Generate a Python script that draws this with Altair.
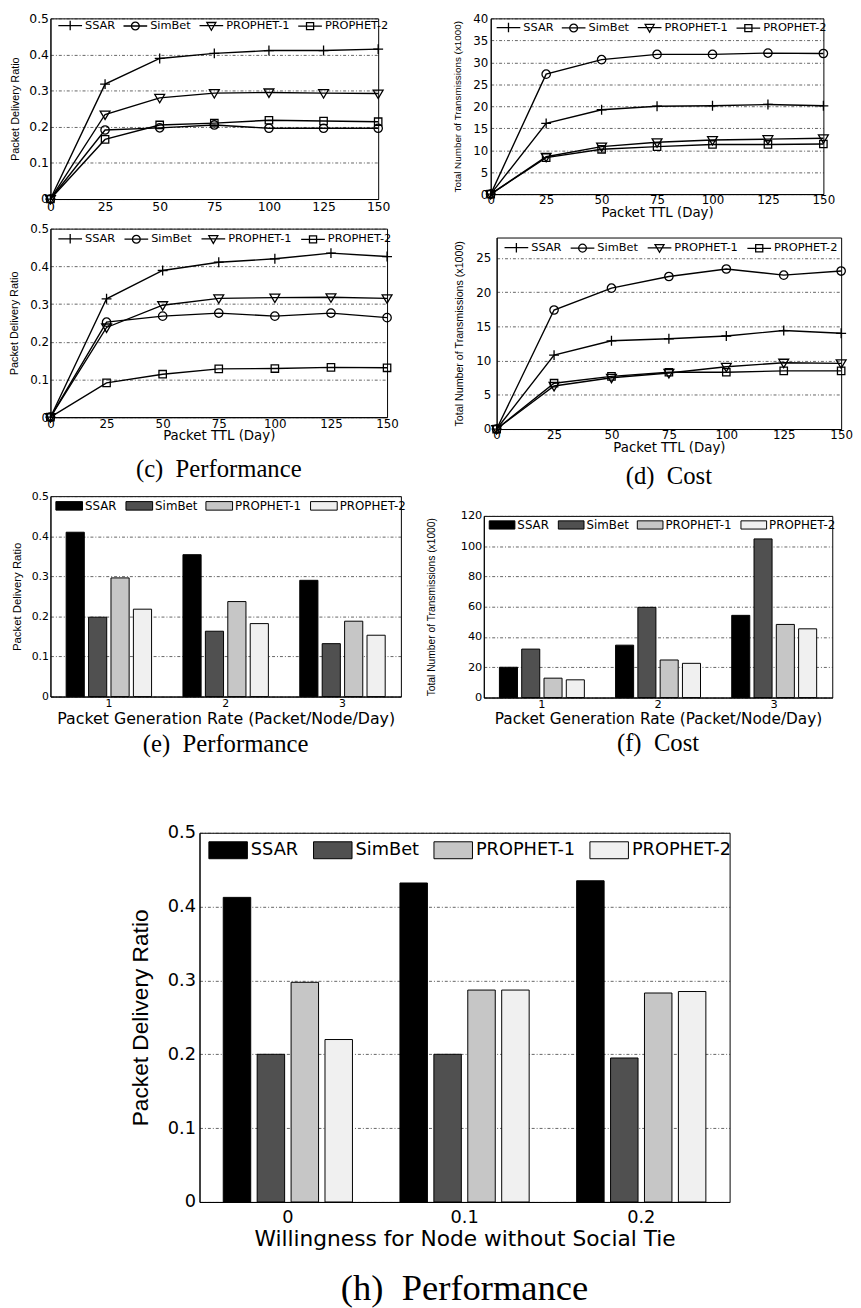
import altair as alt
import pandas as pd

SERIES = ["SSAR", "SimBet", "PROPHET-1", "PROPHET-2"]
TTL = [0, 25, 50, 75, 100, 125, 150]

# (top-left) packet delivery ratio vs TTL
a_ssar = [0, 0.318, 0.389, 0.403, 0.411, 0.411, 0.415]
a_simbet = [0, 0.191, 0.197, 0.205, 0.196, 0.196, 0.196]
a_p1 = [0, 0.234, 0.280, 0.293, 0.295, 0.293, 0.292]
a_p2 = [0, 0.165, 0.205, 0.210, 0.218, 0.216, 0.214]

# (top-right) transmissions vs TTL
b_ssar = [0, 16.1, 19.2, 20.0, 20.1, 20.4, 20.1]
b_simbet = [0, 27.3, 30.6, 31.8, 31.8, 32.1, 32.0]
b_p1 = [0, 8.5, 10.8, 11.8, 12.3, 12.5, 12.7]
b_p2 = [0, 8.3, 10.2, 10.8, 11.3, 11.3, 11.4]

# (c) performance
c_ssar = [0, 0.314, 0.389, 0.411, 0.420, 0.435, 0.426]
c_simbet = [0, 0.252, 0.268, 0.276, 0.268, 0.276, 0.264]
c_p1 = [0, 0.238, 0.297, 0.315, 0.317, 0.318, 0.315]
c_p2 = [0, 0.091, 0.114, 0.128, 0.129, 0.132, 0.131]

# (d) cost
d_ssar = [0, 10.8, 12.9, 13.2, 13.6, 14.4, 14.0]
d_simbet = [0, 17.4, 20.6, 22.3, 23.4, 22.5, 23.1]
d_p1 = [0, 6.3, 7.5, 8.2, 9.1, 9.7, 9.6]
d_p2 = [0, 6.7, 7.7, 8.3, 8.3, 8.5, 8.5]

# (e) / (f) packet generation rate
RATE = ["1", "2", "3"]
e_ssar = [0.410, 0.354, 0.290]
e_simbet = [0.198, 0.163, 0.132]
e_p1 = [0.296, 0.237, 0.188]
e_p2 = [0.218, 0.182, 0.153]

f_ssar = [20.0, 34.6, 54.3]
f_simbet = [32.0, 59.6, 104.8]
f_p1 = [12.8, 24.8, 48.3]
f_p2 = [11.7, 22.6, 45.4]

# (h) willingness
WILL = ["0", "0.1", "0.2"]
h_ssar = [0.4125, 0.432, 0.435]
h_simbet = [0.200, 0.200, 0.195]
h_p1 = [0.2975, 0.287, 0.283]
h_p2 = [0.220, 0.287, 0.285]

SANS = "DejaVu Sans"
ROT = "Liberation Sans"
SERIF = "Liberation Serif"
GRID_DASH = [3, 2, 1, 2]

MARKERS = [
    "M-1,0L1,0M0,-1L0,1",
    "M-0.85,0A0.85,0.85 0 1,0 0.85,0A0.85,0.85 0 1,0 -0.85,0",
    "M-1,-0.7L1,-0.7L0,1Z",
    "M-0.75,-0.75L0.75,-0.75L0.75,0.75L-0.75,0.75Z",
]
LEG_LINE = [
    "M-1,0L1,0M0,-0.4L0,0.4",
    "M-1,0L1,0M-0.33,0A0.33,0.33 0 1,0 0.33,0A0.33,0.33 0 1,0 -0.33,0",
    "M-1,0L1,0M-0.38,-0.27L0.38,-0.27L0,0.38Z",
    "M-1,0L1,0M-0.3,-0.3L0.3,-0.3L0.3,0.3L-0.3,0.3Z",
]
BAR_COLORS = ["#000000", "#505050", "#c6c6c6", "#f0f0f0"]
RATIO_FMT = "datum.value == 0 ? '0' : format(datum.value, '.1f')"

INDEP = dict(fill="independent", shape="independent", xOffset="independent")


def spacer(w, h):
    return alt.Chart(pd.DataFrame({"v": [0]})).mark_point(opacity=0, size=0).encode(
        x=alt.value(0), y=alt.value(0)
    ).properties(width=w, height=h, view=alt.ViewBackground(stroke="transparent", strokeWidth=0))


def line_panel(vals, ydom, yvals, ylabexpr, ytitle, xtitle, w, h, c, caption=None):
    rows = []
    for s, arr in zip(SERIES, vals):
        for t, v in zip(TTL, arr):
            rows.append({"ttl": t, "val": v, "series": s})
    df = pd.DataFrame(rows)
    xax = dict(values=TTL, title=xtitle, labelFont=SANS, labelFontSize=c["lab"], labelPadding=c.get("xlp", 2),
               titleFont=SANS, titleFontSize=c.get("xt", 13), titlePadding=c.get("xtp", 0),
               grid=False, ticks=False, labelFlush=False, domainColor="black", labelColor="black",
               titleColor="black", titleFontWeight="normal")
    yax = dict(values=yvals, title=ytitle, labelFont=SANS, labelFontSize=c["lab"], labelPadding=c["ylp"],
               titleFont=ROT, titleFontSize=c["yt"], titlePadding=c["ytp"], grid=True, gridDash=GRID_DASH,
               gridColor="#222222", gridWidth=0.7, ticks=False, domainColor="black", labelColor="black",
               titleColor="black", titleFontWeight="normal")
    if ylabexpr:
        yax["labelExpr"] = ylabexpr
    x = alt.X("ttl:Q", scale=alt.Scale(domain=[0, 150], nice=False), axis=alt.Axis(**xax))
    y = alt.Y("val:Q", scale=alt.Scale(domain=ydom, nice=False), axis=alt.Axis(**yax))
    base = alt.Chart(df)
    lines = base.mark_line(color="black", strokeWidth=1.4).encode(x=x, y=y, detail="series:N")
    pts = base.mark_point(filled=False, color="black", strokeWidth=1.3, size=c.get("msize", 100), opacity=1).encode(
        x=x, y=y, shape=alt.Shape("series:N", scale=alt.Scale(domain=SERIES, range=MARKERS), legend=None))
    leg = base.mark_point(filled=False, color="black", opacity=0).encode(
        x=x, y=y,
        shape=alt.Shape("series:N", scale=alt.Scale(domain=SERIES, range=LEG_LINE),
                        legend=alt.Legend(title=None, orient="none", legendX=c["lx"], legendY=c["ly"],
                                          direction="horizontal", symbolSize=c.get("ssize", 576),
                                          symbolStrokeWidth=1.3, symbolStrokeColor="black", symbolOpacity=1,
                                          labelFont=SANS, labelFontSize=c["lf"], labelOffset=2,
                                          columnPadding=c["cp"], padding=0, labelColor="black")))
    ch = alt.layer(lines, pts, leg).resolve_scale(shape="independent").properties(width=w, height=h)
    if caption:
        ch = ch.properties(title=alt.TitleParams(text=caption, orient="bottom", font=SERIF, fontSize=c["cf"],
                                                 fontWeight="normal", offset=c["co"], anchor="middle", color="black"))
    return ch


def bar_panel(cats, vals, ydom, yvals, ylabexpr, ytitle, xtitle, w, h, c, caption):
    rows = []
    for s, arr in zip(SERIES, vals):
        for k, v in zip(cats, arr):
            rows.append({"cat": k, "val": v, "series": s})
    df = pd.DataFrame(rows)
    xax = alt.Axis(title=xtitle, labelAngle=0, labelFont=SANS, labelFontSize=c["lab"], labelPadding=c.get("xlp", 1),
                   titleFont=SANS, titleFontSize=c["xt"], titlePadding=c.get("xtp", 0), grid=False, ticks=False,
                   domainColor="black", labelColor="black", titleColor="black", titleFontWeight="normal")
    yax = dict(values=yvals, title=ytitle, labelFont=SANS, labelFontSize=c["lab"], labelPadding=c["ylp"],
               titleFont=ROT, titleFontSize=c["yt"], titlePadding=c["ytp"], grid=True, gridDash=GRID_DASH,
               gridColor="#222222", gridWidth=0.7, ticks=False, domainColor="black", labelColor="black",
               titleColor="black", titleFontWeight="normal")
    if ylabexpr:
        yax["labelExpr"] = ylabexpr
    ch = alt.Chart(df).mark_bar(stroke="black", strokeWidth=1).encode(
        x=alt.X("cat:N", sort=cats, scale=alt.Scale(paddingInner=0, paddingOuter=0), axis=xax),
        xOffset=alt.XOffset("series:N", sort=SERIES,
                            scale=alt.Scale(domain=SERIES, paddingInner=0.19, paddingOuter=0.7)),
        y=alt.Y("val:Q", scale=alt.Scale(domain=ydom, nice=False), axis=alt.Axis(**yax)),
        fill=alt.Fill("series:N", scale=alt.Scale(domain=SERIES, range=BAR_COLORS),
                      legend=alt.Legend(title=None, orient="none", legendX=c["lx"], legendY=c["ly"],
                                        direction="horizontal", symbolType=c["sym"], symbolSize=c["ssize"],
                                        symbolStrokeColor="black", symbolStrokeWidth=1, symbolOpacity=1,
                                        labelFont=SANS, labelFontSize=c["lf"], labelOffset=c.get("lo", 2),
                                        columnPadding=c["cp"], padding=0, labelColor="black")),
    ).properties(width=w, height=h, title=alt.TitleParams(text=caption, orient="bottom", font=SERIF,
                                                           fontSize=c["cf"], fontWeight="normal", offset=c["co"],
                                                           anchor="middle", color="black"))
    return ch


RATIO_TICKS = [0, 0.1, 0.2, 0.3, 0.4, 0.5]
TRANS_TITLE = "Total Number of Transmissions (x1000)"

pa = line_panel([a_ssar, a_simbet, a_p1, a_p2], [0, 0.5], RATIO_TICKS, RATIO_FMT, "Packet Delivery Ratio", None,
                332, 183, dict(lab=12.5, ylp=2, yt=11, ytp=8, lx=7, ly=-6, lf=11.5, cp=5))
pb = line_panel([b_ssar, b_simbet, b_p1, b_p2], [0, 40], list(range(0, 45, 5)), None, TRANS_TITLE,
                "Packet TTL (Day)", 337, 178,
                dict(lab=12, ylp=3, yt=10, ytp=10, xt=13.5, xlp=1, xtp=0, lx=5, ly=-4, lf=11.5, cp=5))
pc = line_panel([c_ssar, c_simbet, c_p1, c_p2], [0, 0.5], RATIO_TICKS, RATIO_FMT, "Packet Delivery Ratio",
                "Packet TTL (Day)", 341, 191,
                dict(lab=12, ylp=2, yt=11, ytp=10, xt=13.5, xlp=1, xtp=0, lx=7, ly=-3, lf=11.5, cp=6,
                     cf=25, co=15), caption="(c)\u00a0\u00a0Performance")
pd_ = line_panel([d_ssar, d_simbet, d_p1, d_p2], [0, 28], list(range(0, 30, 5)), None, TRANS_TITLE,
                 "Packet TTL (Day)", 349, 194,
                 dict(lab=12, ylp=6, yt=10.8, ytp=11, xt=13.5, xlp=1, xtp=0, lx=7, ly=-3, lf=11.5, cp=6,
                      cf=25, co=10), caption="(d)\u00a0\u00a0Cost")

RECT_S = "M-1,-0.32L1,-0.32L1,0.32L-1,0.32Z"
RECT_H = "M-1,-0.44L1,-0.44L1,0.44L-1,0.44Z"

pe = bar_panel(RATE, [e_ssar, e_simbet, e_p1, e_p2], [0, 0.5], RATIO_TICKS, RATIO_FMT, "Packet Delivery Ratio",
               "Packet Generation Rate (Packet/Node/Day)", 355, 203,
               dict(lab=11, ylp=2, yt=11.5, ytp=9, xt=16, xtp=2, lx=5, ly=-4.5, lf=12, cp=6,
                    sym=RECT_S, ssize=729, cf=25, co=6), "(e)\u00a0\u00a0Performance")
pf = bar_panel(RATE, [f_ssar, f_simbet, f_p1, f_p2], [0, 120], list(range(0, 140, 20)), None, TRANS_TITLE,
               "Packet Generation Rate (Packet/Node/Day)", 353, 184,
               dict(lab=11.5, ylp=2, yt=10.4, ytp=24, xt=15.5, xtp=2, lx=5, ly=-4.5, lf=12, cp=6,
                    sym=RECT_S, ssize=676, cf=25, co=4), "(f)\u00a0\u00a0Cost")
ph = bar_panel(WILL, [h_ssar, h_simbet, h_p1, h_p2], [0, 0.5], RATIO_TICKS, RATIO_FMT, "Packet Delivery Ratio",
               "Willingness for Node without Social Tie", 537, 374,
               dict(lab=18, ylp=4, yt=23, ytp=15, xt=22, xlp=7, xtp=2, lx=9, ly=-2.5, lf=18, cp=12,
                    sym=RECT_H, ssize=1521, lo=3, cf=37, co=22), "(h)\u00a0\u00a0Performance")

LEG_IND = dict(fill="independent", shape="independent")

row1 = alt.hconcat(pa, pb, spacing=62).resolve_scale(**INDEP).resolve_legend(**LEG_IND)
row2 = alt.hconcat(
    pc, alt.vconcat(spacer(349, 5), pd_, spacing=0).resolve_scale(**INDEP), spacing=55
).resolve_scale(**INDEP).resolve_legend(**LEG_IND)
row3 = alt.hconcat(
    pe, alt.vconcat(spacer(353, 13), pf, spacing=0).resolve_scale(**INDEP), spacing=18
).resolve_scale(**INDEP).resolve_legend(**LEG_IND)
row4 = alt.hconcat(spacer(79, 10), ph, spacing=0).resolve_scale(**INDEP).resolve_legend(**LEG_IND)

r12 = alt.vconcat(row1, row2, spacing=2).resolve_scale(**INDEP).resolve_legend(**LEG_IND)
r123 = alt.vconcat(r12, row3, spacing=0).resolve_scale(**INDEP).resolve_legend(**LEG_IND)
chart = alt.vconcat(r123, row4, spacing=66).resolve_scale(**INDEP).resolve_legend(**LEG_IND).properties(
    padding={"left": 0, "top": -5, "right": 0, "bottom": 0}
).configure_view(stroke="black", strokeWidth=1)

chart.save("out.html", embed_options={"renderer": "svg", "actions": False})
